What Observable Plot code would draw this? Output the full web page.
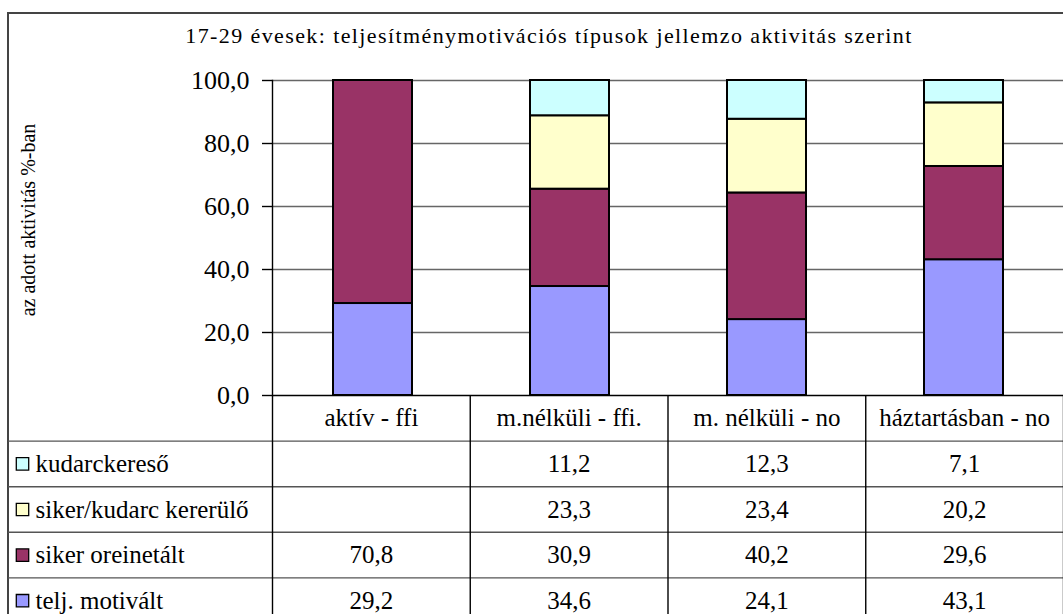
<!DOCTYPE html>
<html>
<head>
<meta charset="utf-8">
<script src="https://cdn.jsdelivr.net/npm/d3@7"></script>
<script src="https://cdn.jsdelivr.net/npm/@observablehq/plot@0.6"></script>
<style>
  html, body { margin: 0; padding: 0; background: #fff; overflow: hidden; }
  #wrap { position: relative; width: 1063px; height: 614px; overflow: hidden; background: #fff; }
  #frame { position: absolute; left: 7px; top: 12px; width: 1200px; height: 800px;
           border-left: 2px solid #444; border-top: 2px solid #444; box-sizing: border-box; }
  #title { position: absolute; left: 8px; width: 1082px; top: 23px; text-align: center;
           font: 22px "Liberation Serif", "Times New Roman", serif; letter-spacing: 1.4px;
           color: #000; white-space: nowrap; }
  #chart, #table { position: absolute; left: 0; }
  #chart { top: 0; }
  #table { top: 395px; }
  #chart svg, #table svg { display: block; overflow: visible; max-width: none; }
  #chart svg text, #table svg text { font-family: "Liberation Serif", "Times New Roman", serif !important; }
</style>
</head>
<body>
<div id="wrap">
  <div id="frame"></div>
  <div id="title"></div>
  <div id="chart"></div>
  <div id="table"></div>
</div>
<script>
// ---------- data ----------
const titleText = "17-29 évesek: teljesítménymotivációs típusok jellemzo aktivitás szerint";
const yLabel = "az adott aktivitás %-ban";
const categories = ["aktív - ffi", "m.nélküli - ffi.", "m. nélküli - no", "háztartásban - no"];
// series, bottom of the stack first
const seriesNames = ["telj. motivált", "siker oreinetált", "siker/kudarc kererülő", "kudarckereső"];
const seriesColors = ["#9999FF", "#993366", "#FFFFCC", "#CCFFFF"];
const teljMotivalt = [29.2, 34.6, 24.1, 43.1];
const sikerOrientalt = [70.8, 30.9, 40.2, 29.6];
const sikerKudarcKerulo = [null, 23.3, 23.4, 20.2];
const kudarckereso = [null, 11.2, 12.3, 7.1];
const yTicks = [0, 20, 40, 60, 80, 100];

const seriesValues = [teljMotivalt, sikerOrientalt, sikerKudarcKerulo, kudarckereso];
const fmt = v => v.toFixed(1).replace(".", ",");
const font = "Liberation Serif";

document.getElementById("title").textContent = titleText;

// long table for the stacked bars
const rows = [];
seriesNames.forEach((s, si) => {
  categories.forEach((c, ci) => {
    const v = seriesValues[si][ci];
    if (v != null) rows.push({series: s, category: c, value: v});
  });
});

// ---------- chart ----------
const chart = Plot.plot({
  width: 1063,
  height: 441,
  marginLeft: 272,
  marginRight: 0,
  marginTop: 80,
  marginBottom: 46,
  style: {fontFamily: font, background: "transparent", color: "#000", overflow: "visible"},
  x: {type: "band", domain: categories, paddingInner: 0.6, paddingOuter: 0.3, axis: null},
  y: {domain: [0, 100], axis: null},
  color: {domain: seriesNames, range: seriesColors},
  marks: [
    Plot.ruleY(yTicks.filter(d => d > 0), {stroke: "#666", strokeWidth: 1.4}),
    Plot.barY(rows, {x: "category", y: "value", fill: "series", order: seriesNames,
                     stroke: "#000", strokeWidth: 2}),
    Plot.ruleY([0], {stroke: "#000", strokeWidth: 1.4}),
    Plot.frame({anchor: "left", stroke: "#000", strokeWidth: 1.4}),
    Plot.axisY(yTicks, {tickFormat: fmt, tickSize: 10, tickPadding: 13, fontSize: 26,
                        label: null, stroke: "#000", strokeWidth: 1.4}),
    Plot.text([yLabel], {frameAnchor: "left", textAnchor: "middle", rotate: -90, dx: -244, dy: -18,
                         fontSize: 20, fill: "#000", fontFamily: font})
  ]
});
document.getElementById("chart").appendChild(chart);

// ---------- data table ----------
const seriesTopDown = seriesNames.slice().reverse();
const valuesTopDown = seriesValues.slice().reverse();
const colIdx = categories.map((c, i) => i);
const colBounds = [...colIdx, categories.length];
const rowBounds = seriesTopDown.map((s, i) => i + 1);

const cellTexts = [];
seriesTopDown.forEach((s, ri) => {
  categories.forEach((c, ci) => {
    const v = valuesTopDown[ri][ci];
    if (v != null) cellTexts.push({col: ci + 0.5, row: ri + 1.5, label: fmt(v)});
  });
});

const table = Plot.plot({
  width: 1063,
  height: 219,
  marginLeft: 8,
  marginRight: 0,
  marginTop: 0,
  marginBottom: 0,
  style: {fontFamily: font, background: "transparent", color: "#000", overflow: "visible"},
  x: {type: "linear", domain: [0, categories.length], range: [272, 1063], axis: null},
  y: {type: "linear", domain: [0, seriesTopDown.length + 1], range: [0, 228], axis: null},
  color: {domain: seriesNames, range: seriesColors},
  marks: [
    Plot.ruleY(rowBounds, {stroke: "#555", strokeWidth: 1.4}),
    Plot.ruleX(colBounds, {y1: 0, y2: seriesTopDown.length + 1, stroke: "#000", strokeWidth: 1.4}),
    Plot.text(categories, {x: (d, i) => i + 0.5, y: 0.5, text: d => d, fontSize: 25, fill: "#000", fontFamily: font}),
    Plot.text(cellTexts, {x: "col", y: "row", text: "label", fontSize: 25, fill: "#000", fontFamily: font}),
    Plot.dot(seriesTopDown, {y: (d, i) => i + 1.5, frameAnchor: "left", dx: 14, symbol: "square",
                             r: 7, fill: d => d, stroke: "#000", strokeWidth: 1.3}),
    Plot.text(seriesTopDown, {y: (d, i) => i + 1.5, frameAnchor: "left", dx: 27, text: d => d,
                              textAnchor: "start", fontSize: 25, fill: "#000", fontFamily: font})
  ]
});
document.getElementById("table").appendChild(table);
</script>
</body>
</html>
